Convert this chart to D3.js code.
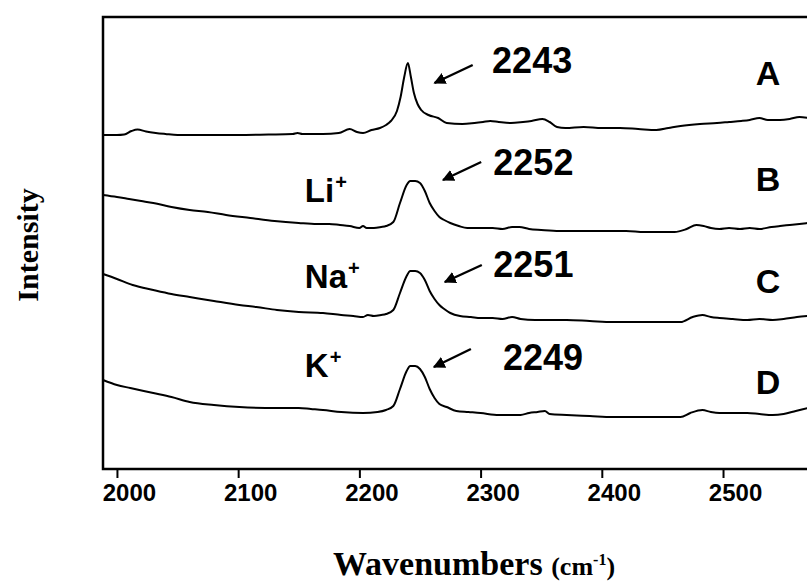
<meta charset="utf-8">
<title>Nitrile stretch spectra</title>
<style>
  body { margin: 0; background: #fff; }
  svg { display: block; }
</style>
<body>
<script src="https://cdn.jsdelivr.net/npm/d3@7"></script>
<script>

var width = 807;
var height = 585;

// spectra: [wavenumber (cm-1), intensity (a.u., stacked)]
var specA = [[1988.5,334],[2000,334],[2006,334.5],[2012,338],[2017,339.5],[2024,337.5],[2032,336],[2040,335],[2050,334],[2070,334],[2100,334],[2125,334.5],[2145,335],[2149,336],[2153,335],[2170,335],[2183,336],[2192,340],[2198,337],[2203,336],[2210,339],[2217,341],[2222,344],[2226,348],[2231,358],[2234,372],[2237,392],[2240,406],[2242.5,392],[2245,376],[2248,365],[2251,359],[2257,354],[2265,351],[2272,346],[2285,345],[2295,346],[2302,347],[2308,348],[2315,347],[2325,346],[2335,347],[2342,348],[2351,350],[2357,347],[2363,342],[2370,341],[2385,342],[2400,341],[2415,341],[2430,340],[2445,339],[2455,341],[2465,343],[2481,345],[2495,346],[2505,347],[2515,348],[2522,349],[2530,351],[2537,349],[2547,349],[2555,350],[2563,352],[2570,351]];
var specB = [[1988.5,274],[2000,272],[2010,270],[2020,268],[2030,266],[2045,262],[2060,259],[2075,257],[2090,254],[2110,251],[2130,248],[2150,246],[2165,245],[2175,245],[2184,244],[2192,243],[2200,241],[2203,243],[2206,241],[2212,241],[2218,242],[2222,243],[2228,247],[2233.5,266],[2239,284],[2242,288],[2246,288],[2250,286],[2254,278],[2258,266],[2262,258],[2266,252],[2270,249],[2275,246],[2282,243],[2289,241],[2300,241],[2310,241],[2318,240],[2326,242],[2332,242],[2340,240],[2350,239],[2365,238],[2380,238],[2400,238],[2420,238],[2435,237],[2450,237],[2460,237],[2470,240],[2478,244],[2484,243],[2490,241],[2497,240],[2505,241],[2514,240],[2522,241],[2530,240],[2540,242],[2547,243],[2555,244],[2563,245],[2570,246]];
var specC = [[1988.5,195],[2000,190],[2013,184],[2030,179],[2045,175],[2060,172],[2080,168],[2101,164],[2115,162],[2132,159],[2150,157],[2170,156],[2185,154],[2195,153],[2203,152],[2207,154],[2212,153],[2218,154],[2222,155],[2228,159],[2233.5,176],[2239,193],[2242,198],[2246,198],[2250,196],[2254,189],[2258,178],[2262,170],[2266,164],[2270,160],[2275,156],[2283,153],[2292,152],[2300,151],[2310,151],[2318,150],[2326,152],[2333,150],[2345,149],[2360,149],[2371,149],[2390,148],[2409,147],[2430,147],[2450,147],[2465,147],[2475,152],[2483,154],[2490,152],[2497,151],[2508,150],[2520,149],[2530,150],[2541,149],[2550,150],[2561,152],[2570,153]];
var specD = [[1988.5,89],[2000,84],[2011,81],[2030,76],[2045,72],[2060,67],[2080,64],[2101,62],[2132,61],[2150,61],[2160,60],[2170,59],[2185,57],[2203,56],[2215,57],[2222,59],[2228,63],[2233.5,80],[2239,98],[2242,103],[2246,103],[2250,100],[2254,92],[2258,80],[2262,71],[2266,65],[2272,62],[2280,58],[2290,57],[2300,56],[2315,54],[2333,54],[2340,56],[2347,57],[2353,58],[2357,55],[2371,54],[2390,53],[2409,52],[2437,52],[2465,52],[2473,56],[2483,59],[2490,57],[2497,56],[2510,56],[2520,56],[2530,55],[2541,54],[2550,55],[2560,58],[2570,61]];
var spectra = [specA, specB, specC, specD];

var xTicks = [2000, 2100, 2200, 2300, 2400, 2500];

// annotations (data coordinates)
var letters = ['A', 'B', 'C', 'D'];
var letterY = [384, 278, 176, 75];
var peakLabels = ['2243', '2252', '2251', '2249'];
var peakLabelX = [2309.5, 2310.5, 2310.5, 2318.5];
var peakLabelY = [396, 294, 192, 99];
var arrowTail = [[2293.5,404],[2300.5,307],[2301,204],[2292,120]];
var arrowTip = [[2262,386],[2269,289],[2270.5,187],[2261.5,102]];
var ions = ['Li', 'Na', 'K'];
var ionY = [267, 181, 92];

var x = d3.scaleLinear().domain([1988.5, 2580]).range([103, 820]);
var y = d3.scaleLinear().domain([0, 452]).range([469, 17]);

var svg = d3.select('body').append('svg')
    .attr('width', width)
    .attr('height', height);

svg.append('defs').append('marker')
    .attr('id', 'head')
    .attr('viewBox', '0 0 10 10')
    .attr('refX', 9).attr('refY', 5)
    .attr('markerWidth', 5).attr('markerHeight', 5)
    .attr('markerUnits', 'strokeWidth')
    .attr('orient', 'auto')
  .append('path')
    .attr('d', 'M0,0 L10,5 L0,10 Z')
    .style('fill', '#000');

// frame
svg.append('rect')
    .attr('x', x.range()[0]).attr('y', y.range()[1])
    .attr('width', 760).attr('height', y.range()[0] - y.range()[1])
    .style('fill', 'none').style('stroke', '#000').style('stroke-width', 2.5);

var xAxis = d3.axisBottom(x).tickValues(xTicks).tickFormat(d3.format('d'))
    .tickSize(9).tickPadding(6);
var gX = svg.append('g')
    .attr('transform', 'translate(0,' + y.range()[0] + ')')
    .call(xAxis);
gX.select('.domain').remove();
gX.selectAll('.tick line').style('stroke', '#000').style('stroke-width', 2);
gX.selectAll('.tick text')
    .attr('dx', 12)
    .style('font-family', '"Liberation Sans", Arial, sans-serif')
    .style('font-weight', 'bold')
    .style('font-size', '24px')
    .style('fill', '#000');

var line = d3.line()
    .x(function(d){ return x(d[0]); })
    .y(function(d){ return y(d[1]); })
    .curve(d3.curveMonotoneX);

svg.append('g').selectAll('path')
    .data(spectra)
    .enter().append('path')
    .attr('d', line)
    .style('fill', 'none')
    .style('stroke', '#000')
    .style('stroke-width', 2)
    .style('stroke-linejoin', 'round');

var sans = '"Liberation Sans", Arial, sans-serif';
var serif = '"Liberation Serif", "Times New Roman", serif';

// peak arrows
svg.append('g').selectAll('line')
    .data(arrowTail)
    .enter().append('line')
    .attr('x1', function(d){ return x(d[0]); })
    .attr('y1', function(d){ return y(d[1]); })
    .attr('x2', function(d,i){ return x(arrowTip[i][0]); })
    .attr('y2', function(d,i){ return y(arrowTip[i][1]); })
    .attr('marker-end', 'url(#head)')
    .style('stroke', '#000').style('stroke-width', 2.4);

svg.append('g').selectAll('text')
    .data(peakLabels)
    .enter().append('text')
    .attr('x', function(d,i){ return x(peakLabelX[i]); })
    .attr('y', function(d,i){ return y(peakLabelY[i]); })
    .text(function(d){ return d; })
    .style('font-family', sans).style('font-weight', 'bold').style('font-size', '36px');

svg.append('g').selectAll('text')
    .data(letters)
    .enter().append('text')
    .attr('x', x(2527))
    .attr('y', function(d,i){ return y(letterY[i]); })
    .text(function(d){ return d; })
    .style('font-family', sans).style('font-weight', 'bold').style('font-size', '34px');

var ionText = svg.append('g').selectAll('text')
    .data(ions)
    .enter().append('text')
    .attr('x', x(2155))
    .attr('y', function(d,i){ return y(ionY[i]); })
    .style('font-family', sans).style('font-weight', 'bold').style('font-size', '33px');
ionText.append('tspan').text(function(d){ return d; });
ionText.append('tspan').attr('dy', -13).attr('dx', 1).style('font-size', '20px').text('+');

// axis titles
var xt = svg.append('text')
    .attr('x', 333).attr('y', 575)
    .style('font-family', serif).style('font-weight', 'bold').style('font-size', '34px');
xt.append('tspan').text('Wavenumbers ');
xt.append('tspan').style('font-size', '26px').text('(cm');
xt.append('tspan').style('font-size', '16px').attr('dy', -10).text('-1');
xt.append('tspan').style('font-size', '26px').attr('dy', 10).text(')');

svg.append('text')
    .attr('transform', 'translate(38,245) rotate(-90)')
    .attr('text-anchor', 'middle')
    .text('Intensity')
    .style('font-family', serif).style('font-weight', 'bold').style('font-size', '30px');

</script>
</body>
